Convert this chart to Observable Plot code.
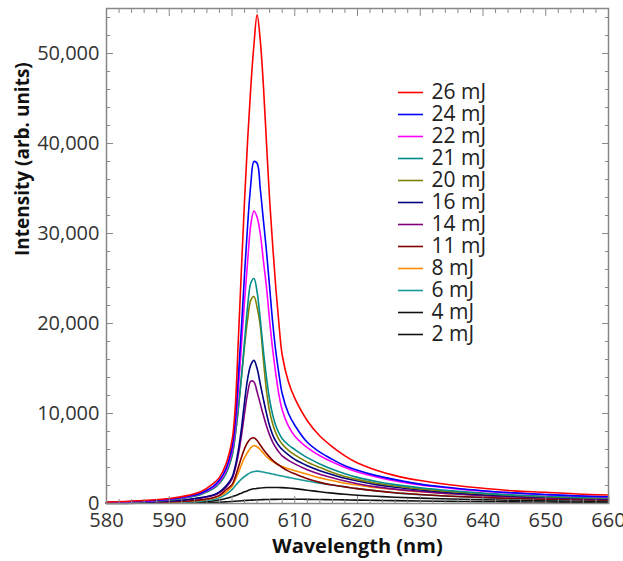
<!DOCTYPE html>
<html><head><meta charset="utf-8">
<script src="https://cdn.jsdelivr.net/npm/d3@7"></script>
<script src="https://cdn.jsdelivr.net/npm/@observablehq/plot@0.6"></script>
<style>
body{margin:0;background:#fff;}
#wrap{position:relative;width:623px;height:561px;}
#legend{position:absolute;left:390px;top:69px;}
</style></head><body><div id="wrap"><div id="main"></div><div id="legend"></div></div>
<script>
const wavelengths = [580,585,590,593,595,597,598,599,600,600.5,601,601.5,602,602.5,603,603.5,604,604.5,605,605.5,606,606.5,607,607.5,608,609,610,612,614,616,618,620,623,626,630,635,640,645,650,655,660];
const energies = ["26 mJ","24 mJ","22 mJ","21 mJ","20 mJ","16 mJ","14 mJ","11 mJ","8 mJ","6 mJ","4 mJ","2 mJ"];
const s26 = [150,300,550,900,1300,2200,2900,4300,7000,10500,18000,26000,33700,40500,46300,51000,54300,51500,46500,40000,33700,28500,23800,19800,16500,13500,11700,9200,7500,6300,5300,4500,3700,3100,2550,2050,1700,1400,1250,1050,950];
const s24 = [120,250,480,800,1150,1900,2600,3800,6200,9000,14000,19500,25500,31000,35500,38000,37800,35000,31500,28000,24000,20000,16800,14300,12200,10000,8700,6800,5700,4900,4200,3700,3100,2650,2150,1750,1420,1180,1000,850,750];
const s22 = [120,230,450,750,1100,1800,2450,3600,5800,8300,12500,17500,22500,27000,31000,32500,31800,30000,27000,24000,20300,17000,14300,12000,10400,8600,7500,6200,5300,4600,4000,3500,2950,2500,2050,1680,1380,1150,980,840,740];
const s21 = [100,200,400,680,1000,1650,2250,3300,5300,7500,10500,14000,18000,22000,24500,25000,23500,20500,17000,14000,11500,9800,8600,7800,7200,6500,6000,5100,4400,3800,3300,2900,2450,2100,1750,1420,1150,950,800,700,620];
const s20 = [100,200,400,680,1000,1650,2250,3300,5300,7500,10500,14000,17500,20500,22600,23000,21800,19800,16000,12500,10200,8800,7800,7100,6600,5900,5400,4600,4000,3450,3000,2650,2250,1950,1620,1320,1080,890,750,650,580];
const s16 = [70,140,280,450,650,950,1300,1900,2900,4100,5900,8300,11300,13900,15400,15900,15000,13300,11600,10000,8600,7600,6900,6400,6000,5400,4900,4200,3650,3200,2800,2500,2100,1800,1500,1200,980,820,690,600,520];
const s14 = [70,130,260,420,600,880,1200,1750,2700,3800,5400,7500,10000,12300,13600,13500,12400,11100,9800,8600,7600,6800,6200,5700,5300,4800,4400,3750,3250,2850,2500,2200,1850,1600,1350,1080,880,740,630,540,470];
const s11 = [40,80,160,270,400,650,900,1500,2100,2900,4000,5100,6100,6800,7200,7300,7000,6500,6000,5550,5150,4800,4500,4250,4000,3600,3300,2750,2350,2050,1850,1650,1400,1200,1000,800,660,560,480,420,370];
const s8 = [40,80,150,250,370,600,820,1250,1900,2600,3400,4300,5100,5700,6200,6450,6300,6000,5600,5200,4900,4650,4450,4250,4100,3850,3650,3250,2850,2550,2250,2050,1750,1550,1300,1080,880,740,620,530,460];
const s6 = [25,50,100,170,260,450,650,1000,1550,1950,2350,2700,3000,3250,3450,3550,3600,3550,3500,3420,3350,3270,3200,3120,3050,2900,2750,2500,2250,2050,1850,1650,1400,1180,970,800,650,540,450,390,340];
const s4 = [20,40,70,110,160,280,400,550,750,870,1000,1150,1300,1430,1550,1630,1680,1720,1750,1770,1780,1780,1780,1770,1760,1720,1650,1480,1300,1150,1020,920,800,700,600,500,420,360,310,270,240];
const s2 = [10,20,35,50,70,110,140,180,230,255,280,305,330,350,370,385,400,415,430,440,450,455,460,465,470,470,470,460,440,420,400,380,350,320,280,240,210,180,160,140,120];
const seriesValues = [s26,s24,s22,s21,s20,s16,s14,s11,s8,s6,s4,s2];
const colors = ["#ff0000","#0000ff","#ff00ff","#008b8b","#808000","#000080","#800080","#800000","#ff8c00","#1a9999","#111111","#111111"];
const xMajor = d3.range(580, 661, 10);
const xMinor = d3.range(580, 661, 2).filter(v => v % 10 !== 0);
const yMajor = d3.range(0, 50001, 10000);
const yMinor = d3.range(0, 55001, 2000).filter(v => v % 10000 !== 0);

const rows = [];
for (let i = energies.length - 1; i >= 0; i--) {
  wavelengths.forEach((w, j) => rows.push({energy: energies[i], wl: w, I: seriesValues[i][j]}));
}

const font = "'Open Sans', 'Noto Sans', sans-serif";
const main = Plot.plot({
  width: 623, height: 561,
  marginLeft: 106, marginRight: 15, marginTop: 8, marginBottom: 58,
  style: {fontFamily: font, fontSize: "20px", color: "#333", background: "#fff"},
  x: {domain: [580, 660]},
  y: {domain: [0, 55000]},
  color: {domain: energies, range: colors},
  marks: [
    Plot.line(rows, {x: "wl", y: "I", z: "energy", stroke: "energy", strokeWidth: 1.6, curve: "catmull-rom"}),
    Plot.frame({stroke: "#888", strokeWidth: 1.5}),
    Plot.axisX({anchor: "bottom", ticks: xMajor, tickSize: -7, tickPadding: 16, stroke: "#888", fill: "#333", fontSize: 20, label: null}),
    Plot.axisX({anchor: "bottom", ticks: xMinor, tickSize: -4, tickFormat: () => "", stroke: "#888", label: null}),
    Plot.axisX({anchor: "top", ticks: xMajor, tickSize: -7, tickFormat: () => "", stroke: "#888", label: null}),
    Plot.axisX({anchor: "top", ticks: xMinor, tickSize: -4, tickFormat: () => "", stroke: "#888", label: null}),
    Plot.axisY({anchor: "left", ticks: yMajor, tickSize: -7, tickPadding: 14, stroke: "#888", fill: "#333", fontSize: 20, tickFormat: d3.format(","), label: null}),
    Plot.axisY({anchor: "left", ticks: yMinor, tickSize: -4, tickFormat: () => "", stroke: "#888", label: null}),
    Plot.axisY({anchor: "right", ticks: yMajor, tickSize: -7, tickFormat: () => "", stroke: "#888", label: null}),
    Plot.axisY({anchor: "right", ticks: yMinor, tickSize: -4, tickFormat: () => "", stroke: "#888", label: null}),
    Plot.text(["Wavelength (nm)"], {frameAnchor: "bottom", dy: 49, text: d => d, fontWeight: "bold", fontSize: 20, fill: "#111"}),
    Plot.text(["Intensity (arb. units)"], {frameAnchor: "left", dx: -84, rotate: -90, text: d => d, fontWeight: "bold", fontSize: 19, fill: "#111"})
  ]
});
document.getElementById("main").appendChild(main);

const legend = Plot.plot({
  width: 120, height: 288,
  marginLeft: 0, marginRight: 0, marginTop: 12, marginBottom: 12,
  style: {fontFamily: font, fontSize: "21px", background: "transparent"},
  x: {domain: [0, 120], range: [0, 120], axis: null},
  y: {type: "point", domain: energies, axis: null},
  color: {domain: energies, range: colors},
  marks: [
    Plot.ruleY(energies, {y: d => d, x1: 8, x2: 33, stroke: d => d, strokeWidth: 1.6}),
    Plot.text(energies, {y: d => d, x: 41, text: d => d, textAnchor: "start", fontSize: 21, fill: "#222"})
  ]
});
document.getElementById("legend").appendChild(legend);
</script></body></html>
